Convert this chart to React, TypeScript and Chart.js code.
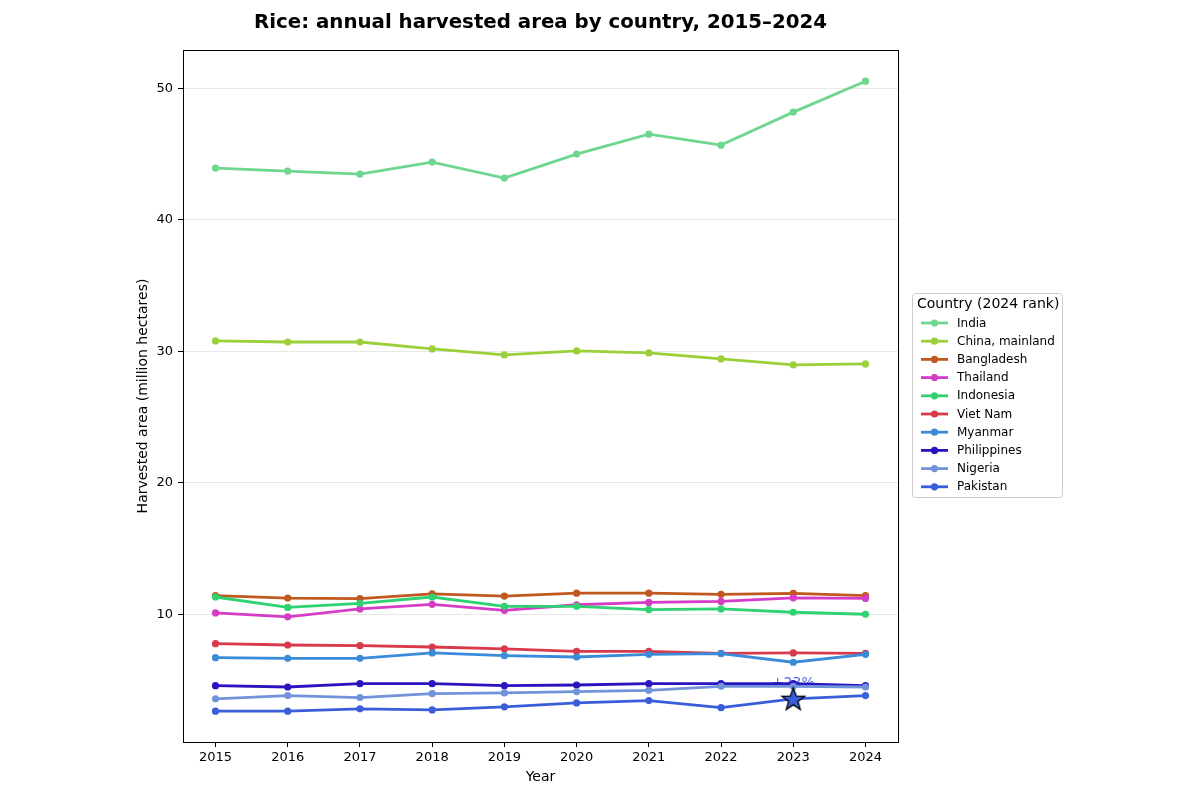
import React, { useEffect, useRef } from "react";
import { Chart, registerables } from "chart.js";

Chart.register(...registerables);

// Harvested rice area, million hectares
const years = [2015, 2016, 2017, 2018, 2019, 2020, 2021, 2022, 2023, 2024];
const india = [43.93, 43.7, 43.47, 44.38, 43.17, 44.99, 46.5, 45.67, 48.18, 50.53];
const china = [30.79, 30.71, 30.71, 30.18, 29.73, 30.03, 29.88, 29.42, 28.97, 29.04];
const bangladesh = [11.43, 11.25, 11.2, 11.56, 11.4, 11.62, 11.62, 11.53, 11.6, 11.43];
const thailand = [10.12, 9.82, 10.42, 10.77, 10.32, 10.74, 10.92, 10.99, 11.27, 11.22];
const indonesia = [11.33, 10.54, 10.85, 11.33, 10.62, 10.62, 10.37, 10.42, 10.17, 10.02];
const vietNam = [7.78, 7.68, 7.63, 7.53, 7.38, 7.2, 7.2, 7.05, 7.08, 7.05];
const myanmar = [6.72, 6.67, 6.67, 7.08, 6.87, 6.77, 6.97, 7.02, 6.37, 6.97];
const philippines = [4.59, 4.49, 4.74, 4.74, 4.59, 4.64, 4.74, 4.74, 4.74, 4.59];
const nigeria = [3.59, 3.84, 3.69, 3.99, 4.04, 4.14, 4.24, 4.54, 4.54, 4.49];
const pakistan = [2.65, 2.65, 2.83, 2.75, 2.98, 3.28, 3.46, 2.92, 3.59, 3.84];

const countries = [
  "India",
  "China, mainland",
  "Bangladesh",
  "Thailand",
  "Indonesia",
  "Viet Nam",
  "Myanmar",
  "Philippines",
  "Nigeria",
  "Pakistan",
];
const seriesValues = [india, china, bangladesh, thailand, indonesia, vietNam, myanmar, philippines, nigeria, pakistan];
const colors = [
  "#6fd690",
  "#9bd03a",
  "#c0581f",
  "#d53cc7",
  "#2fd270",
  "#d93a4b",
  "#3a8bd9",
  "#2a14c0",
  "#7093d9",
  "#3a5dd9",
];
const yTicks = [10, 20, 30, 40, 50];

// Highlighted point: Pakistan's 2022 -> 2023 jump
const highlightSeries = 9;
const highlightYear = 2023;

const FONT = "'DejaVu Sans', sans-serif";

function makeStar(): HTMLCanvasElement {
  const size = 28;
  const c = document.createElement("canvas");
  c.width = size;
  c.height = size;
  const g = c.getContext("2d")!;
  const cx = size / 2;
  const cy = size / 2 + 1;
  const ro = 12;
  const ri = 4.9;
  g.beginPath();
  for (let i = 0; i < 10; i++) {
    const r = i % 2 === 0 ? ro : ri;
    const a = -Math.PI / 2 + (i * Math.PI) / 5;
    const px = cx + r * Math.cos(a);
    const py = cy + r * Math.sin(a);
    if (i === 0) g.moveTo(px, py);
    else g.lineTo(px, py);
  }
  g.closePath();
  g.fillStyle = "#3a5dd9";
  g.fill();
  g.lineWidth = 1.3;
  g.strokeStyle = "#000";
  g.stroke();
  return c;
}

export default function App() {
  const ref = useRef<HTMLCanvasElement>(null);

  useEffect(() => {
    const canvas = ref.current;
    if (!canvas) return;

    const hiIdx = years.indexOf(highlightYear);
    const hiVals = seriesValues[highlightSeries];
    const prev = hiVals[hiIdx - 1];
    const cur = hiVals[hiIdx];
    const pct = Math.round(((cur - prev) / prev) * 100);
    const annotation = (pct >= 0 ? "+" : "") + pct + "%";

    const datasets: any[] = seriesValues.map((vals, i) => ({
      label: countries[i],
      data: years.map((x, k) => ({ x, y: vals[k] })),
      borderColor: colors[i],
      backgroundColor: colors[i],
      borderWidth: 2.8,
      pointRadius: 3.6,
      pointHoverRadius: 3.6,
      pointBorderWidth: 0,
      tension: 0,
      order: seriesValues.length - i + 1,
    }));
    datasets.push({
      label: "highlight",
      data: [{ x: highlightYear, y: cur }],
      showLine: false,
      pointStyle: makeStar(),
      pointRadius: 12,
      order: 0,
    });

    const decorations = {
      id: "decorations",
      beforeDatasetsDraw(chart: any) {
        const ctx = chart.ctx;
        const xs = chart.scales.x;
        const ys = chart.scales.y;
        ctx.save();
        ctx.font = `14px ${FONT}`;
        ctx.fillStyle = "rgba(58, 93, 217, 0.9)";
        ctx.textAlign = "center";
        ctx.textBaseline = "middle";
        ctx.fillText(annotation, xs.getPixelForValue(highlightYear), ys.getPixelForValue(cur) - 15);
        ctx.restore();
      },
      afterDraw(chart: any) {
        const ctx = chart.ctx;
        const a = chart.chartArea;
        ctx.save();
        // frame
        ctx.strokeStyle = "#000";
        ctx.lineWidth = 1;
        ctx.strokeRect(Math.round(a.left) + 0.5, Math.round(a.top) + 0.5, Math.round(a.right - a.left), Math.round(a.bottom - a.top));

        // title
        ctx.fillStyle = "#000";
        ctx.textAlign = "center";
        ctx.textBaseline = "middle";
        ctx.font = `bold 19.8px ${FONT}`;
        ctx.fillText("Rice: annual harvested area by country, 2015\u20132024", (a.left + a.right) / 2, 23);

        // axis titles
        ctx.font = `14px ${FONT}`;
        ctx.fillText("Year", (a.left + a.right) / 2, 777);
        ctx.save();
        ctx.translate(143, (a.top + a.bottom) / 2);
        ctx.rotate(-Math.PI / 2);
        ctx.fillText("Harvested area (million hectares)", 0, 0);
        ctx.restore();

        // legend
        const lx = 912;
        const ly = 293;
        const lw = 150;
        const lh = 204;
        ctx.fillStyle = "rgba(255,255,255,0.85)";
        ctx.strokeStyle = "#cccccc";
        ctx.lineWidth = 1;
        ctx.beginPath();
        ctx.roundRect(lx + 0.5, ly + 0.5, lw, lh, 3);
        ctx.fill();
        ctx.stroke();
        ctx.fillStyle = "#000";
        ctx.textAlign = "left";
        ctx.font = `14px ${FONT}`;
        ctx.fillText("Country (2024 rank)", lx + 5, ly + 11);
        ctx.font = `12px ${FONT}`;
        countries.forEach((name, i) => {
          const y = 323 + i * 18.2;
          ctx.strokeStyle = colors[i];
          ctx.lineWidth = 2.8;
          ctx.beginPath();
          ctx.moveTo(921, y);
          ctx.lineTo(948, y);
          ctx.stroke();
          ctx.fillStyle = colors[i];
          ctx.beginPath();
          ctx.arc(934.5, y, 3.6, 0, Math.PI * 2);
          ctx.fill();
          ctx.fillStyle = "#000";
          ctx.fillText(name, 957, y + 0.5);
        });
        ctx.restore();
      },
    };

    const chart = new Chart(canvas, {
      type: "line",
      data: { datasets },
      options: {
        animation: false,
        responsive: false,
        devicePixelRatio: 1,
        events: [],
        layout: { padding: { top: 50, right: 302, left: 0, bottom: 0 } },
        plugins: {
          legend: { display: false },
          title: { display: false },
          tooltip: { enabled: false },
        },
        scales: {
          x: {
            type: "linear",
            min: 2014.55,
            max: 2024.45,
            afterBuildTicks: (s: any) => {
              s.ticks = years.map((v) => ({ value: v }));
            },
            afterFit: (s: any) => {
              s.height = 58;
            },
            ticks: {
              callback: (v: any) => String(v),
              font: { family: FONT, size: 13 },
              color: "#000",
              padding: 3,
              maxRotation: 0,
              autoSkip: false,
            },
            grid: { drawOnChartArea: false, drawTicks: true, tickLength: 5, tickColor: "#000" },
            border: { display: false },
          },
          y: {
            type: "linear",
            min: 0.31,
            max: 52.9,
            afterBuildTicks: (s: any) => {
              s.ticks = yTicks.map((v) => ({ value: v }));
            },
            afterFit: (s: any) => {
              s.width = 183;
            },
            ticks: {
              callback: (v: any) => String(v),
              font: { family: FONT, size: 13 },
              color: "#000",
              padding: 5,
            },
            grid: { color: "#e8e8e8", lineWidth: 1, tickLength: 5, tickColor: "#000" },
            border: { display: false },
          },
        },
      },
      plugins: [decorations],
    });

    return () => chart.destroy();
  }, []);

  return (
    <div style={{ position: "absolute", left: 0, top: 0, width: 1200, height: 800, background: "#fff" }}>
      <canvas ref={ref} width={1200} height={800} style={{ display: "block" }} />
    </div>
  );
}
